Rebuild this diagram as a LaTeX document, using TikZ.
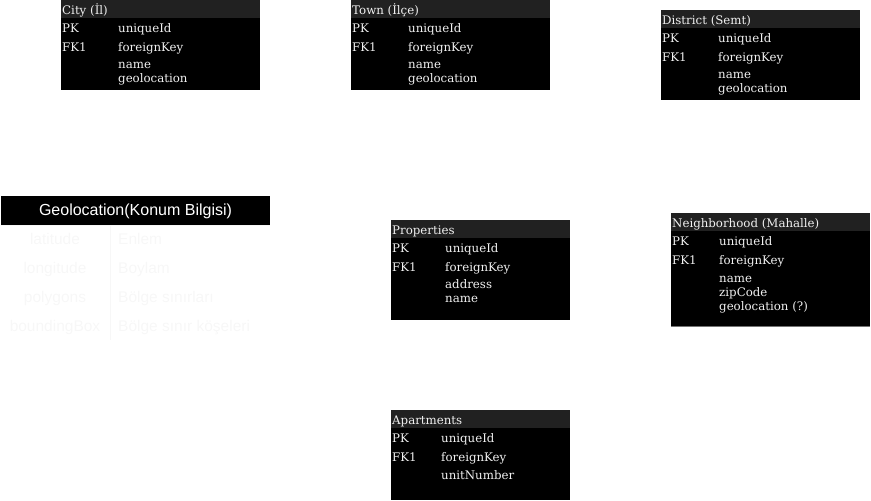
\documentclass[tikz,border=0pt]{standalone}
\usepackage{fontspec}
\setmainfont{DejaVu Serif}
\newfontfamily\geofont{Liberation Sans}
\usetikzlibrary{positioning}

\begin{document}
\begin{tikzpicture}[x=1pt,y=-1pt,
  hdr/.style={fill=black!87},
  bdy/.style={fill=black},
  fld/.style={anchor=base west,inner sep=0pt,text=black!6,
    font=\fontsize{11.8}{14}\selectfont},
  geotitle/.style={inner sep=0pt,text=white,font=\geofont\fontsize{16}{18}\selectfont},
  georow/.style={inner sep=0pt,anchor=base,text=black!3,font=\geofont\fontsize{15.5}{18}\selectfont},
  geoval/.style={georow,anchor=base west}]
\useasboundingbox (0,0) rectangle (871,501);

% city
\fill[hdr] (61,0) rectangle (260,18);
\fill[bdy] (61,18) rectangle (260,90);
\node[fld] (city) at (62,14) {City (İl)};
\node[fld] (citypk) at (62,32) {PK};
\node[fld] (cityid) at (118,32) {uniqueId};
\node[fld] (cityfk) at (62,51) {FK1};
\node[fld] (cityfkey) at (118,51) {foreignKey};
\node[fld] (cityname) at (118,68) {name};
\node[fld] (citygeo) at (118,82) {geolocation};

% town
\fill[hdr] (351,0) rectangle (550,18);
\fill[bdy] (351,18) rectangle (550,90);
\node[fld] (town) at (352,14) {Town (İlçe)};
\node[fld] (townpk) at (352,32) {PK};
\node[fld] (townid) at (408,32) {uniqueId};
\node[fld] (townfk) at (352,51) {FK1};
\node[fld] (townfkey) at (408,51) {foreignKey};
\node[fld] (townname) at (408,68) {name};
\node[fld] (towngeo) at (408,82) {geolocation};

% district
\fill[hdr] (661,10) rectangle (860,28);
\fill[bdy] (661,28) rectangle (860,100);
\node[fld] (district) at (662,24) {District (Semt)};
\node[fld] (districtpk) at (662,42) {PK};
\node[fld] (districtid) at (718,42) {uniqueId};
\node[fld] (districtfk) at (662,61) {FK1};
\node[fld] (districtfkey) at (718,61) {foreignKey};
\node[fld] (districtname) at (718,78) {name};
\node[fld] (districtgeo) at (718,92) {geolocation};

% geolocation
\fill[black] (1,196) rectangle (270,225);
\node[geotitle] (geo) at (135.5,211) {Geolocation(Konum Bilgisi)};
\draw[black!3] (1,225) -- (270,225) (110,225) -- (110,340);
\node[georow] (lat) at (55,244) {latitude};
\node[geoval] (latv) at (118,244) {Enlem};
\node[georow] (lon) at (55,273) {longitude};
\node[geoval] (lonv) at (118,273) {Boylam};
\node[georow] (poly) at (55,302) {polygons};
\node[geoval] (polyv) at (118,302) {Bölge sınırları};
\node[georow] (bbox) at (55,331) {boundingBox};
\node[geoval] (bboxv) at (118,331) {Bölge sınır köşeleri};

% properties
\fill[hdr] (391,220) rectangle (570,238);
\fill[bdy] (391,238) rectangle (570,320);
\node[fld] (prop) at (392,234) {Properties};
\node[fld] (proppk) at (392,252) {PK};
\node[fld] (propid) at (445,252) {uniqueId};
\node[fld] (propfk) at (392,271) {FK1};
\node[fld] (propfkey) at (445,271) {foreignKey};
\node[fld] (propaddr) at (445,288) {address};
\node[fld] (propname) at (445,302) {name};

% neighborhood
\fill[hdr] (671,213) rectangle (870,231);
\fill[bdy] (671,231) rectangle (870,327);
\draw[black!55] (671,326.5) -- (870,326.5);
\node[fld] (hood) at (672,227) {Neighborhood (Mahalle)};
\node[fld] (hoodpk) at (672,245) {PK};
\node[fld] (hoodid) at (719,245) {uniqueId};
\node[fld] (hoodfk) at (672,264) {FK1};
\node[fld] (hoodfkey) at (719,264) {foreignKey};
\node[fld] (hoodname) at (719,282) {name};
\node[fld] (hoodzip) at (719,296) {zipCode};
\node[fld] (hoodgeo) at (719,310) {geolocation (?)};

% apartments
\fill[hdr] (391,410) rectangle (570,428);
\fill[bdy] (391,428) rectangle (570,500);
\node[fld] (apt) at (392,424) {Apartments};
\node[fld] (aptpk) at (392,442) {PK};
\node[fld] (aptid) at (441,442) {uniqueId};
\node[fld] (aptfk) at (392,461) {FK1};
\node[fld] (aptfkey) at (441,461) {foreignKey};
\node[fld] (aptunit) at (441,479) {unitNumber};
\end{tikzpicture}
\end{document}
